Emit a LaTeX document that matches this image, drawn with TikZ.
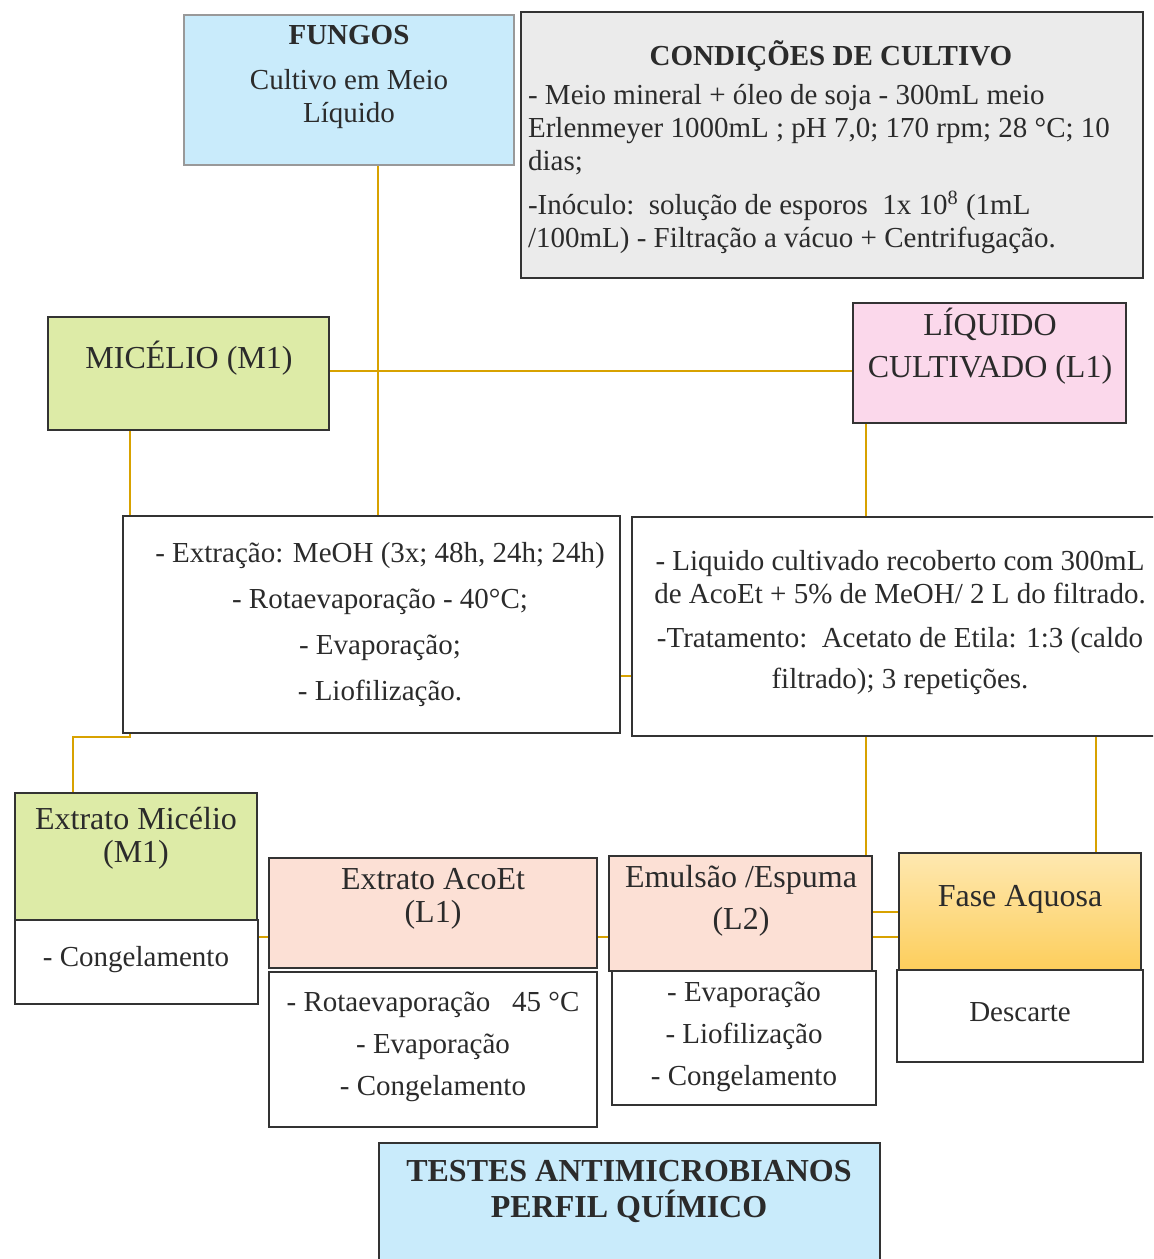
\documentclass[tikz,border=0pt]{standalone}
\usepackage{fontspec}
\setmainfont{Liberation Serif}
\usetikzlibrary{fit,backgrounds}
\definecolor{ink}{HTML}{2B2B2B}
\definecolor{boxline}{HTML}{333333}
\definecolor{linkc}{HTML}{D8A200}
\definecolor{fungoblue}{HTML}{C9EBFB}
\definecolor{condgray}{HTML}{EBEBEB}
\definecolor{micgreen}{HTML}{DDEBA7}
\definecolor{liqpink}{HTML}{FBD8EB}
\definecolor{peach}{HTML}{FCE0D5}
\definecolor{fasetop}{HTML}{FEE8B0}
\definecolor{fasebot}{HTML}{FDCE5C}

\begin{document}
\begin{tikzpicture}[x=0.5pt,y=-0.5pt,
			box/.style={draw=boxline,line width=1.2pt,inner sep=0pt},
			txt/.style={text=ink,align=center,font=\fontsize{14.5}{16.5}\selectfont},
			ttl/.style={txt,font=\fontsize{16}{16.5}\selectfont},
			link/.style={draw=linkc,line width=1pt}]
			\path[use as bounding box,clip] (0,0) rectangle (1153,1259);
			% caixas
			\node[box,draw=gray!80,line width=0.8pt,fill=fungoblue,fit={(184,15) (514,165)}] (fungos) {};
			\node[box,fill=condgray,fit={(521,12) (1143,278)}] (cond) {};
			\node[box,fill=micgreen,fit={(48,317) (329,430)}] (mic) {};
			\node[box,fill=liqpink,fit={(853,303) (1126,423)}] (liq) {};
			\node[box,fill=white,fit={(123,516) (620,733)}] (extr) {};
			\node[box,fill=white,fit={(632,517) (1175,736)}] (trat) {};
			\node[box,fill=micgreen,fit={(15,793) (257,920)}] (extM) {};
			\node[box,fill=white,fit={(15,920) (258,1004)}] (extMb) {};
			\node[box,fill=peach,fit={(269,858) (597,968)}] (aco) {};
			\node[box,fill=white,fit={(269,972) (597,1127)}] (acob) {};
			\node[box,fill=peach,fit={(609,856) (872,971)}] (emu) {};
			\node[box,fill=white,fit={(612,971) (876,1105)}] (emub) {};
			\node[box,top color=fasetop,bottom color=fasebot,fit={(899,853) (1141,970)}] (fase) {};
			\node[box,fill=white,fit={(897,970) (1143,1062)}] (faseb) {};
			\node[box,fill=fungoblue,fit={(379,1143) (880,1275)}] (testes) {};
			% textos
			\node[txt] (fungosT) at (349,77) {\textbf{FUNGOS}\\[6pt] Cultivo em Meio\\ Líquido};
			\node[txt] (condT) at (831,56) {\textbf{CONDIÇÕES DE CULTIVO}};
			\node[txt,align=left,anchor=west] (condL) at (521,169) {- Meio mineral + óleo de soja - 300mL meio\\ Erlenmeyer 1000mL ; pH 7,0; 170 rpm; 28 °C; 10\\ dias;\\[5.5pt] -Inóculo:\ \ solução de esporos\ \ 1x 10\textsuperscript{8} (1mL\\ /100mL) - Filtração a vácuo + Centrifugação.};
			\node[ttl] (micT) at (189,358) {MICÉLIO (M1)};
			\node[ttl] (liqT) at (990,346) {LÍQUIDO\\[4.5pt] CULTIVADO (L1)};
			\node[txt] (extrT) at (380,625) {- Extração: MeOH (3x; 48h, 24h; 24h)\\[6.5pt] - Rotaevaporação - 40°C;\\[6.5pt] - Evaporação;\\[6.5pt] - Liofilização.};
			\node[txt] (tratT) at (900,623) {- Liquido cultivado recoberto com 300mL\\ de AcoEt + 5\% de MeOH/ 2 L do filtrado.\\[5.5pt] -Tratamento:\ \ Acetato de Etila: 1:3 (caldo\\[4pt] filtrado); 3 repetições.};
			\node[ttl] (extMT) at (136,838) {Extrato Micélio\\ (M1)};
			\node[txt] (extMbT) at (136,960) {- Congelamento};
			\node[ttl] (acoT) at (433,899) {Extrato AcoEt\\ (L1)};
			\node[txt] (acobT) at (433,1047) {- Rotaevaporação\ \ \ 45 °C\\[4.5pt] - Evaporação\\[4.5pt] - Congelamento};
			\node[ttl] (emuT) at (741,901) {Emulsão /Espuma\\[4.5pt] (L2)};
			\node[txt] (emubT) at (744,1037) {- Evaporação\\[4.5pt] - Liofilização\\[4.5pt] - Congelamento};
			\node[ttl] (faseT) at (1020,899) {Fase Aquosa};
			\node[txt] (fasebT) at (1020,1012) {Descarte};
			\node[ttl] (testesT) at (629,1191) {\textbf{TESTES ANTIMICROBIANOS}\\[1.5pt] \textbf{PERFIL QUÍMICO}};
			% ligacoes
			\coordinate (xF) at (378,0);
			\coordinate (xL) at (866,0);
			\coordinate (xA) at (1096,0);
			\coordinate (xE) at (73,0);
			\coordinate (hM) at (0,371);
			\coordinate (hX) at (0,676);
			\coordinate (hA) at (0,912);
			\coordinate (hB) at (0,937);
			\coordinate (bend) at (130,737);
			\begin{pgfonlayer}{background}
				\draw[link] (fungos.south -| xF) -- (extr.north -| xF);
				\draw[link] (mic.east |- hM) -- (liq.west |- hM);
				\draw[link] (mic.south -| bend) -- (bend) -| (extM.north -| xE);
				\draw[link] (extr.east |- hX) -- (trat.west |- hX);
				\draw[link] (liq.south -| xL) -- (emu.north -| xL);
				\draw[link] (trat.south -| xA) -- (fase.north -| xA);
				\draw[link] (extMb.east |- hB) -- (aco.west |- hB);
				\draw[link] (aco.east |- hB) -- (emu.west |- hB);
				\draw[link] (emu.east |- hB) -- (fase.west |- hB);
				\draw[link] (emu.east |- hA) -- (fase.west |- hA);
			\end{pgfonlayer}
		\end{tikzpicture}
\end{document}
